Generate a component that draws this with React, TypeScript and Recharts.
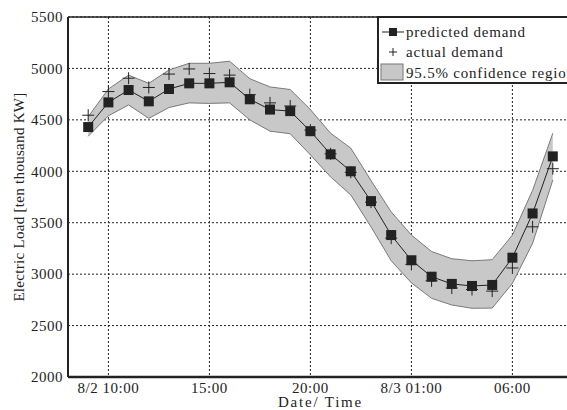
import { Area, CartesianGrid, ComposedChart, Label, Line, ReferenceLine, XAxis, YAxis } from 'recharts';

// hours since 8/2 00:00 (25 = 8/3 01:00)
const HOURS = [9, 10, 11, 12, 13, 14, 15, 16, 17, 18, 19, 20, 21, 22, 23, 24, 25, 26, 27, 28, 29, 30, 31, 32];
const PREDICTED = [4430, 4670, 4790, 4680, 4800, 4855, 4855, 4865, 4700, 4600, 4585, 4390, 4165, 4000, 3710, 3380, 3135, 2975, 2905, 2885, 2895, 3160, 3590, 4145];
const ACTUAL = [4545, 4775, 4905, 4815, 4945, 4995, 4950, 4935, 4745, 4665, 4635, 4400, 4170, 3990, 3700, 3350, 3095, 2935, 2865, 2850, 2835, 3060, 3460, 4025];
const UPPER = [4530, 4800, 4935, 4855, 4985, 5050, 5050, 5070, 4900, 4820, 4795, 4600, 4370, 4225, 3910, 3605, 3380, 3220, 3150, 3130, 3140, 3380, 3815, 4370];
const LOWER = [4340, 4540, 4645, 4515, 4620, 4665, 4660, 4665, 4500, 4390, 4365, 4160, 3945, 3770, 3460, 3130, 2915, 2765, 2700, 2668, 2670, 2910, 3300, 3915];

const X_TICKS = [10, 15, 20, 25, 30];
const X_TICK_LABELS = ['8/2 10:00', '15:00', '20:00', '8/3 01:00', '06:00'];
const Y_TICKS = [2000, 2500, 3000, 3500, 4000, 4500, 5000, 5500];

const FONT = "'Liberation Serif', 'Times New Roman', serif";
const INK = '#222';
const BAND = '#c8c8c8';

const rows = HOURS.map((h, i) => ({
    hour: h,
    predicted: PREDICTED[i],
    actual: ACTUAL[i],
    band: [LOWER[i], UPPER[i]],
}));

const Square = (props: any) => {
    const { cx, cy, index } = props;
    if (cx == null || cy == null) return null;
    return <rect key={`sq-${index}`} x={cx - 5} y={cy - 5} width={10} height={10} fill={INK} />;
};

const Plus = (props: any) => {
    const { cx, cy, index } = props;
    if (cx == null || cy == null) return null;
    return (
        <g key={`pl-${index}`} stroke={INK} strokeWidth={1}>
            <line x1={cx - 6} x2={cx + 6} y1={cy} y2={cy} />
            <line x1={cx} x2={cx} y1={cy - 6} y2={cy + 6} />
        </g>
    );
};

const tickStyle = { fontFamily: FONT, fontSize: 15, fill: INK, letterSpacing: 0.5 };
const legendText = { ...tickStyle, letterSpacing: 0.8 };

export default function App() {
    return (
        <div style={{ position: 'absolute', left: 0, top: 0, width: 567, height: 410, overflow: 'hidden', background: '#fff' }}>
            <ComposedChart
                width={600}
                height={410}
                data={rows}
                margin={{ top: 17, right: 27, bottom: 0, left: 0 }}
            >
                <CartesianGrid stroke={INK} strokeDasharray="2 2" strokeWidth={1} />
                <XAxis
                    dataKey="hour"
                    type="number"
                    domain={[8, 33]}
                    ticks={X_TICKS}
                    tickFormatter={(v: number) => X_TICK_LABELS[X_TICKS.indexOf(v)] ?? ''}
                    height={33}
                    tickSize={0}
                    tickMargin={5}
                    tick={tickStyle}
                    axisLine={{ stroke: INK, strokeWidth: 2.5 }}
                    allowDataOverflow
                >
                    <Label
                        value="Date/ Time"
                        position="insideBottom"
                        offset={3}
                        style={{ fontFamily: FONT, fontSize: 15, fill: INK, letterSpacing: 1.8 }}
                    />
                </XAxis>
                <YAxis
                    domain={[2000, 5500]}
                    ticks={Y_TICKS}
                    width={68}
                    tickSize={0}
                    tickMargin={5}
                    tick={tickStyle}
                    axisLine={{ stroke: INK, strokeWidth: 2 }}
                    allowDataOverflow
                >
                    <Label
                        value="Electric Load  [ten thousand KW]"
                        angle={-90}
                        position="insideLeft"
                        offset={19}
                        style={{ fontFamily: FONT, fontSize: 15, fill: INK, letterSpacing: 0.3, textAnchor: 'middle', whiteSpace: 'pre' }}
                    />
                </YAxis>
                <ReferenceLine y={5500} stroke={INK} strokeWidth={1.5} />
                <Area
                    dataKey="band"
                    type="linear"
                    fill={BAND}
                    fillOpacity={1}
                    stroke="#7a7a7a"
                    strokeWidth={1}
                    isAnimationActive={false}
                />
                <Line
                    dataKey="actual"
                    type="linear"
                    stroke="none"
                    dot={Plus}
                    activeDot={false}
                    isAnimationActive={false}
                />
                <Line
                    dataKey="predicted"
                    type="linear"
                    stroke={INK}
                    strokeWidth={1}
                    dot={Square}
                    activeDot={false}
                    isAnimationActive={false}
                />
            </ComposedChart>

            {/* legend box, sits on the top border like the original */}
            <svg
                width={567}
                height={410}
                style={{ position: 'absolute', left: 0, top: 0, pointerEvents: 'none' }}
            >
                <rect x={378} y={17} width={230} height={66} fill="#fff" stroke={INK} strokeWidth={2} />
                <line x1={382} x2={404} y1={32} y2={32} stroke={INK} strokeWidth={1} />
                <rect x={389} y={28} width={8} height={8} fill={INK} />
                <text x={406} y={37} style={legendText}>predicted demand</text>
                <line x1={389} x2={397} y1={52} y2={52} stroke={INK} strokeWidth={1} />
                <line x1={393} x2={393} y1={48} y2={56} stroke={INK} strokeWidth={1} />
                <text x={406} y={57} style={legendText}>actual demand</text>
                <rect x={381} y={64} width={22} height={16} fill={BAND} stroke="#777" strokeWidth={1} />
                <text x={406} y={78} style={legendText}>95.5% confidence region</text>
            </svg>
        </div>
    );
}
